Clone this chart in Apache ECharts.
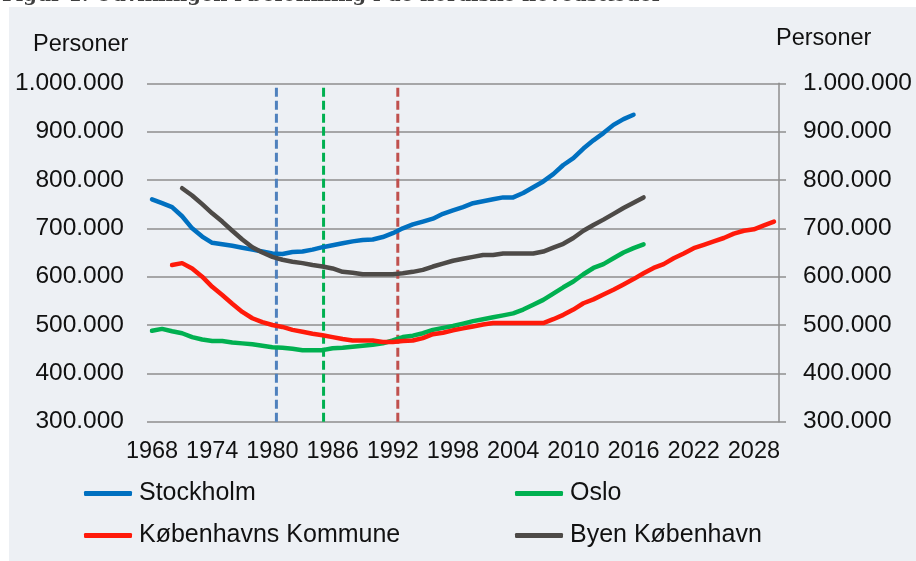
<!DOCTYPE html>
<html>
<head>
<meta charset="utf-8">
<script src="https://cdn.jsdelivr.net/npm/echarts@6/dist/echarts.min.js"></script>
<style>
    html, body { margin: 0; padding: 0; background: #fff; }
    #chart { width: 916px; height: 561px; }
</style>
</head>
<body>
<div id="chart"></div>
<script>
    // 年份 1968-2030
    var years = [];
    for (var y = 1968; y <= 2030; y++) { years.push(String(y)); }

    // 各城市人口（千人），起始年份见下
    var stockholmStart = 1968;
    var stockholm = [760, 752, 744, 725, 700, 683, 670, 667, 664, 660, 656, 652, 648, 647, 651, 652, 656, 661, 665, 669,
        673, 676, 677, 682, 690, 700, 708, 714, 720, 730, 737, 744, 752, 756, 760, 764, 764, 773, 785, 797,
        812, 831, 845, 865, 882, 897, 914, 926, 935];
    var osloStart = 1968;
    var oslo = [488, 492, 487, 483, 475, 470, 467, 467, 464, 462, 460, 457, 454, 453, 451, 448, 448, 448, 452, 453,
        455, 457, 459, 462, 468, 475, 478, 483, 490, 494, 498, 503, 508, 512, 516, 520, 524, 532, 542, 552,
        565, 578, 590, 605, 618, 626, 638, 650, 659, 667];
    var kommuneStart = 1970;
    var kommune = [624, 628, 617, 600, 579, 562, 544, 527, 514, 506, 500, 496, 490, 486, 482, 479, 475, 471, 468, 468,
        468, 465, 465, 467, 468, 473, 481, 484, 489, 493, 497, 501, 504, 504, 504, 504, 504, 504, 512, 521,
        532, 545, 553, 563, 573, 584, 595, 607, 618, 626, 638, 648, 659, 666, 673, 680, 689, 695, 698, 706, 714];
    var byenStart = 1971;
    var byen = [783, 768, 750, 731, 714, 695, 677, 661, 650, 641, 635, 631, 628, 624, 621, 617, 610, 608, 605, 605,
        605, 605, 607, 610, 614, 621, 627, 633, 637, 641, 645, 645, 648, 648, 648, 648, 652, 660, 668, 680,
        695, 707, 718, 730, 742, 753, 764];

    // 虚线标记年份
    var markYears = [1980.4, 1985.1, 1992.5];
    var markColors = ['#4f81bd', '#00b050', '#c0504d'];

    var fontName = '"Liberation Sans", Arial, sans-serif';

    function pad(start, values) {
        var out = [];
        for (var i = 0; i < years.length; i++) {
            var idx = 1968 + i - start;
            out.push(idx >= 0 && idx < values.length ? values[idx] * 1000 : null);
        }
        return out;
    }
    function fmt(v) {
        return String(v).replace(/\B(?=(\d{3})+(?!\d))/g, '.');
    }

    var lineSeries = function(name, color, data) {
        return {
            name: name,
            type: 'line',
            data: data,
            symbol: 'none',
            connectNulls: false,
            lineStyle: { color: color, width: 4.5, cap: 'round', join: 'round' },
            itemStyle: { color: color },
            z: 3
        };
    };

    var series = [
        lineSeries('Stockholm', '#0070c0', pad(stockholmStart, stockholm)),
        lineSeries('Oslo', '#00b050', pad(osloStart, oslo)),
        lineSeries('Københavns Kommune', '#ff1a0a', pad(kommuneStart, kommune)),
        lineSeries('Byen København', '#4d4a47', pad(byenStart, byen))
    ];
    markYears.forEach(function(yr, i) {
        series.push({
            name: 'mark' + i,
            type: 'line',
            xAxisIndex: 1,
            data: [[yr, 300000], [yr, 992000]],
            symbol: 'none',
            lineStyle: { color: markColors[i], width: 3, type: [9, 4] },
            z: 2,
            silent: true
        });
    });

    var legendBase = {
        orient: 'vertical', top: 481, padding: 0,
        icon: 'roundRect', itemWidth: 48, itemHeight: 5, itemGap: 17,
        textStyle: { fontSize: 25, color: '#111', padding: [0, 0, 0, 2] }
    };

    var myChart = echarts.init(document.getElementById('chart'));
    var option = {
        backgroundColor: '#fff',
        animation: false,
        textStyle: { fontFamily: fontName },
        graphic: [
            { type: 'rect', left: 9, top: 7, shape: { width: 907, height: 554 }, style: { fill: '#edf0f4' }, z: -10 },
            { type: 'text', x: 2, y: 6, style: { text: 'Figur 1. Udviklingen i befolkning i de nordiske hovedstæder',
                font: 'bold 19.5px "DejaVu Serif", serif', fill: '#3f3f3f', verticalAlign: 'bottom' }, z: -5 },
            { type: 'text', left: 33, top: 33, style: { text: 'Personer', font: '23.5px ' + fontName, fill: '#111' } },
            { type: 'text', left: 776, top: 27, style: { text: 'Personer', font: '23.5px ' + fontName, fill: '#111' } }
        ],
        grid: { left: 147, right: 137, top: 83.3, bottom: 139.3, containLabel: false },
        legend: [
            Object.assign({ data: ['Stockholm', 'Københavns Kommune'], left: 84 }, legendBase),
            Object.assign({ data: ['Oslo', 'Byen København'], left: 515 }, legendBase)
        ],
        xAxis: [{
            type: 'category',
            data: years,
            boundaryGap: true,
            axisLine: { show: false },
            axisTick: { show: false },
            axisLabel: { interval: 5, fontSize: 23.5, color: '#111', margin: 18 }
        }, {
            type: 'value',
            min: 1967.5,
            max: 2030.5,
            show: false
        }],
        yAxis: [{
            type: 'value',
            position: 'left',
            min: 300000, max: 1000000, interval: 100000,
            axisLine: { show: false },
            axisTick: { show: false },
            axisLabel: { fontSize: 24.5, color: '#111', margin: 23, formatter: fmt },
            splitLine: { lineStyle: { color: '#8e8e8e', width: 1.5 } }
        }, {
            type: 'value',
            position: 'right',
            min: 300000, max: 1000000, interval: 100000,
            axisLine: { show: true, lineStyle: { color: '#8e8e8e', width: 1.5 } },
            axisTick: { show: true, length: 7, lineStyle: { color: '#8e8e8e', width: 1.5 } },
            axisLabel: { fontSize: 24.5, color: '#111', margin: 24, formatter: fmt },
            splitLine: { show: false }
        }],
        series: series
    };
    myChart.setOption(option);
</script>
</body>
</html>
